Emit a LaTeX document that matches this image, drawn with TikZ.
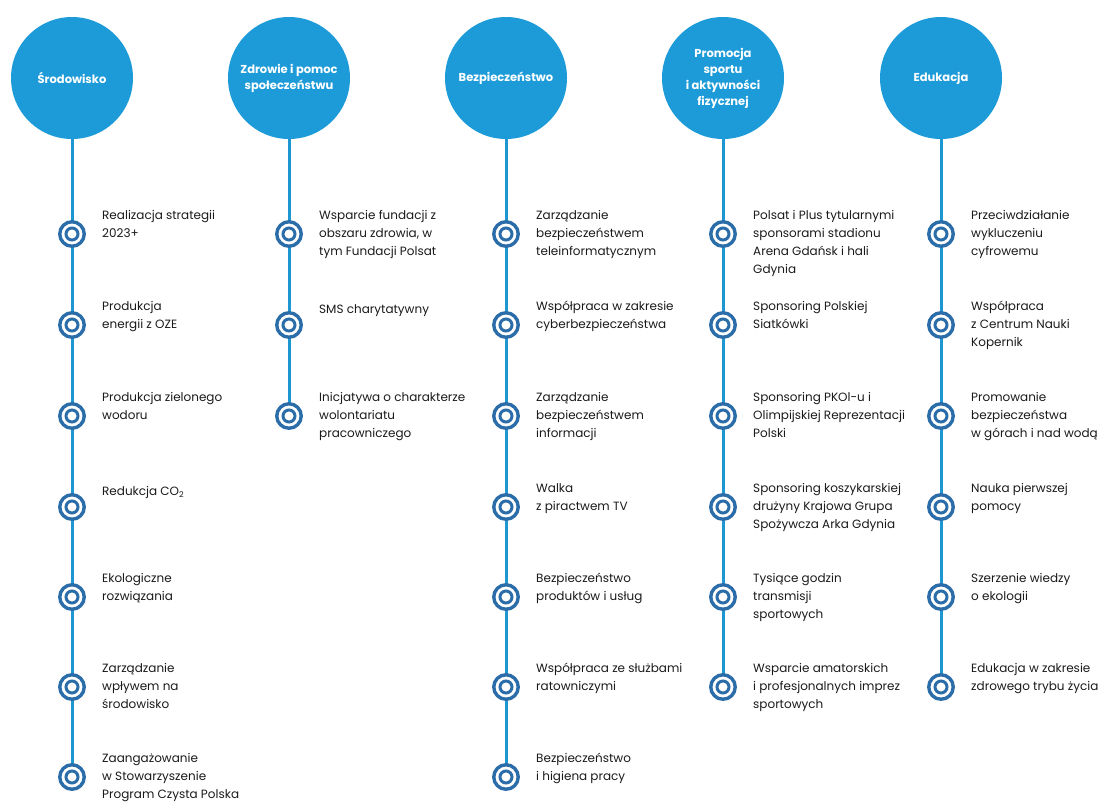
\documentclass[tikz,border=0pt]{standalone}
\usepackage{fontspec}
\setmainfont{Poppins}
\pgfdeclarelayer{bg}
\pgfsetlayers{bg,main}
\definecolor{circblue}{HTML}{1D9BD8}
\definecolor{stemblue}{HTML}{1E96D2}
\definecolor{ringblue}{HTML}{2B6DA8}
\definecolor{txt}{HTML}{1A1A1A}
\tikzset{
  head/.style={circle, fill=circblue, minimum size=122pt, inner sep=0pt, text=white,
    align=center, font=\fontsize{11.5}{16}\selectfont\bfseries},
  bul/.style={circle, draw=ringblue, line width=3.4pt, fill=white, minimum size=24.5pt, inner sep=0pt,
    path picture={\draw[ringblue, line width=3pt] (path picture bounding box.center) circle (6pt);}},
  item/.style={anchor=north west, inner sep=0pt, align=left, text=txt,
    font=\fontsize{12}{18}\selectfont, execute at begin node=\strut},
  stem/.style={draw=stemblue, line width=3pt}
}
\begin{document}
\begin{tikzpicture}[x=1pt, y=-1pt]
\useasboundingbox (0,0) rectangle (1105,804);
% headers
\node[head] (h1) at (72,78) {Środowisko};
\node[head] (h2) at (289,78) {Zdrowie i pomoc\\społeczeństwu};
\node[head] (h3) at (506,78) {Bezpieczeństwo};
\node[head] (h4) at (723,78) {Promocja\\sportu\\i aktywności\\fizycznej};
\node[head] (h5) at (941,78) {Edukacja};
% column 1
\node[bul] (b11) at (72,234) {};
\node[bul] (b12) at (72,325) {};
\node[bul] (b13) at (72,416) {};
\node[bul] (b14) at (72,507) {};
\node[bul] (b15) at (72,597) {};
\node[bul] (b16) at (72,687) {};
\node[bul] (b17) at (72,777) {};
\node[item] (t11) at (102,210) {Realizacja strategii\\2023+};
\node[item] (t12) at (102,301) {Produkcja\\energii z OZE};
\node[item] (t13) at (102,392) {Produkcja zielonego\\wodoru};
\node[item] (t14) at (102,483) {Redukcja CO\textsubscript{2}};
\node[item] (t15) at (102,573) {Ekologiczne\\rozwiązania};
\node[item] (t16) at (102,663) {Zarządzanie\\wpływem na\\środowisko};
\node[item] (t17) at (102,753) {Zaangażowanie\\w Stowarzyszenie\\Program Czysta Polska};
% column 2
\node[bul] (b21) at (289,234) {};
\node[bul] (b22) at (289,325) {};
\node[bul] (b23) at (289,416) {};
\node[item] (t21) at (319,210) {Wsparcie fundacji z\\obszaru zdrowia, w\\tym Fundacji Polsat};
\node[item] (t22) at (319,301) {SMS charytatywny};
\node[item] (t23) at (319,392) {Inicjatywa o charakterze\\wolontariatu\\pracowniczego};
% column 3
\node[bul] (b31) at (506,234) {};
\node[bul] (b32) at (506,325) {};
\node[bul] (b33) at (506,416) {};
\node[bul] (b34) at (506,507) {};
\node[bul] (b35) at (506,597) {};
\node[bul] (b36) at (506,687) {};
\node[bul] (b37) at (506,777) {};
\node[item] (t31) at (536,210) {Zarządzanie\\bezpieczeństwem\\teleinformatycznym};
\node[item] (t32) at (536,301) {Współpraca w zakresie\\cyberbezpieczeństwa};
\node[item] (t33) at (536,392) {Zarządzanie\\bezpieczeństwem\\informacji};
\node[item] (t34) at (536,483) {Walka\\z piractwem TV};
\node[item] (t35) at (536,573) {Bezpieczeństwo\\produktów i usług};
\node[item] (t36) at (536,663) {Współpraca ze służbami\\ratowniczymi};
\node[item] (t37) at (536,753) {Bezpieczeństwo\\i higiena pracy};
% column 4
\node[bul] (b41) at (723,234) {};
\node[bul] (b42) at (723,325) {};
\node[bul] (b43) at (723,416) {};
\node[bul] (b44) at (723,507) {};
\node[bul] (b45) at (723,597) {};
\node[bul] (b46) at (723,687) {};
\node[item] (t41) at (753,210) {Polsat i Plus tytularnymi\\sponsorami stadionu\\Arena Gdańsk i hali\\Gdynia};
\node[item] (t42) at (753,301) {Sponsoring Polskiej\\Siatkówki};
\node[item] (t43) at (753,392) {Sponsoring PKOl-u i\\Olimpijskiej Reprezentacji\\Polski};
\node[item] (t44) at (753,483) {Sponsoring koszykarskiej\\drużyny Krajowa Grupa\\Spożywcza Arka Gdynia};
\node[item] (t45) at (753,573) {Tysiące godzin\\transmisji\\sportowych};
\node[item] (t46) at (753,663) {Wsparcie amatorskich\\i profesjonalnych imprez\\sportowych};
% column 5
\node[bul] (b51) at (941,234) {};
\node[bul] (b52) at (941,325) {};
\node[bul] (b53) at (941,416) {};
\node[bul] (b54) at (941,507) {};
\node[bul] (b55) at (941,597) {};
\node[bul] (b56) at (941,687) {};
\node[item] (t51) at (971,210) {Przeciwdziałanie\\wykluczeniu\\cyfrowemu};
\node[item] (t52) at (971,301) {Współpraca\\z Centrum Nauki\\Kopernik};
\node[item] (t53) at (971,392) {Promowanie\\bezpieczeństwa\\w górach i nad wodą};
\node[item] (t54) at (971,483) {Nauka pierwszej\\pomocy};
\node[item] (t55) at (971,573) {Szerzenie wiedzy\\o ekologii};
\node[item] (t56) at (971,663) {Edukacja w zakresie\\zdrowego trybu życia};
% stems
\begin{pgfonlayer}{bg}
\draw[stem] (h1.center) -- (b17.center);
\draw[stem] (h2.center) -- (b23.center);
\draw[stem] (h3.center) -- (b37.center);
\draw[stem] (h4.center) -- (b46.center);
\draw[stem] (h5.center) -- (b56.center);
\end{pgfonlayer}
\end{tikzpicture}
\end{document}
